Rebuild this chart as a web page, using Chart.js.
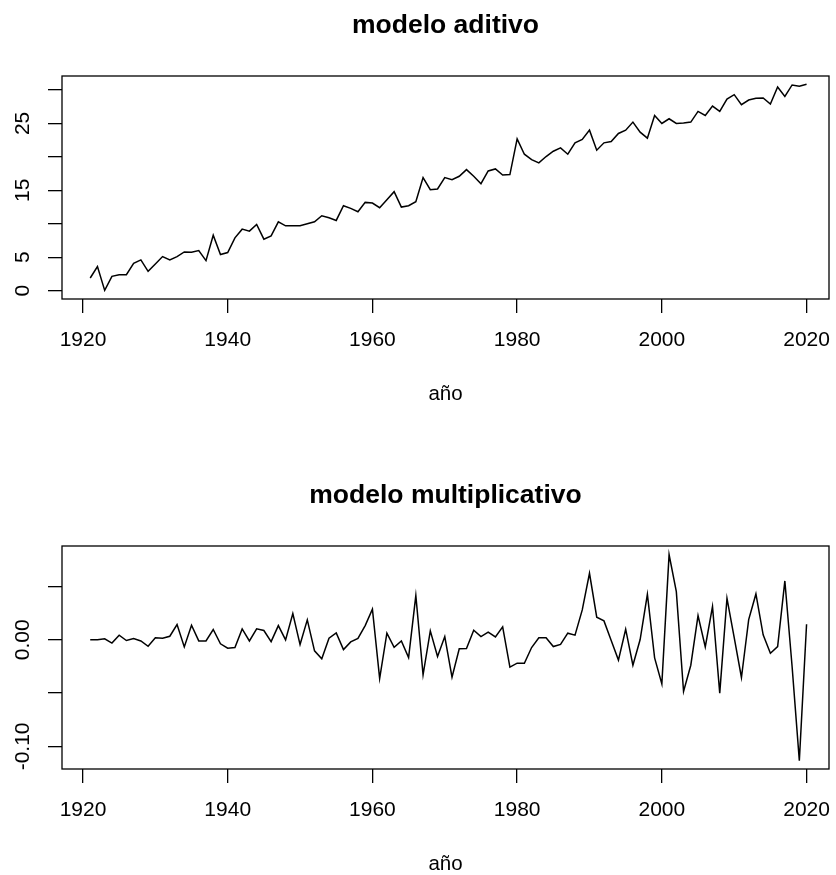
<!DOCTYPE html>
<html>
<head>
<meta charset="utf-8">
<script src="https://cdn.jsdelivr.net/npm/chart.js@4/dist/chart.umd.min.js"></script>
<style>
  body { margin: 0; background: #fff; overflow: hidden; }
  #wrap { position: relative; width: 836px; height: 875px; overflow: hidden; }
  canvas { position: absolute; left: 0; }
</style>
</head>
<body>
<div id="wrap">
  <canvas id="aditivo" width="836" height="470" style="top:0"></canvas>
  <canvas id="multiplicativo" width="836" height="470" style="top:470px"></canvas>
</div>
<script>
const years = [
    1921, 1922, 1923, 1924, 1925, 1926, 1927, 1928, 1929, 1930,
    1931, 1932, 1933, 1934, 1935, 1936, 1937, 1938, 1939, 1940,
    1941, 1942, 1943, 1944, 1945, 1946, 1947, 1948, 1949, 1950,
    1951, 1952, 1953, 1954, 1955, 1956, 1957, 1958, 1959, 1960,
    1961, 1962, 1963, 1964, 1965, 1966, 1967, 1968, 1969, 1970,
    1971, 1972, 1973, 1974, 1975, 1976, 1977, 1978, 1979, 1980,
    1981, 1982, 1983, 1984, 1985, 1986, 1987, 1988, 1989, 1990,
    1991, 1992, 1993, 1994, 1995, 1996, 1997, 1998, 1999, 2000,
    2001, 2002, 2003, 2004, 2005, 2006, 2007, 2008, 2009, 2010,
    2011, 2012, 2013, 2014, 2015, 2016, 2017, 2018, 2019, 2020
];

const aditivo = [
    1.9, 3.6, 0.05, 2.15, 2.4, 2.4, 4.1, 4.6, 2.9, 4.0,
    5.1, 4.6, 5.1, 5.8, 5.75, 6.0, 4.5, 8.3, 5.4, 5.7,
    7.9, 9.2, 8.9, 9.9, 7.7, 8.2, 10.3, 9.7, 9.7, 9.7,
    10.0, 10.3, 11.2, 10.9, 10.5, 12.7, 12.3, 11.8, 13.2, 13.1,
    12.4, 13.6, 14.8, 12.5, 12.7, 13.3, 16.9, 15.1, 15.2, 16.9,
    16.6, 17.1, 18.1, 17.1, 16.0, 17.9, 18.2, 17.3, 17.35, 22.7,
    20.4, 19.6, 19.1, 20.05, 20.85, 21.35, 20.4, 22.1, 22.6, 24.0,
    21.0, 22.1, 22.3, 23.5, 24.0, 25.2, 23.7, 22.8, 26.2, 25.0,
    25.7, 25.0, 25.05, 25.2, 26.8, 26.2, 27.6, 26.8, 28.65, 29.3,
    27.8, 28.5, 28.75, 28.8, 27.9, 30.45, 29.05, 30.75, 30.55, 30.85
];

const multiplicativo = [
    0.000, 0.000, 0.001, -0.003, 0.0044, -0.0006, 0.0013, -0.001, -0.006, 0.002,
    0.0016, 0.0034, 0.0144, -0.0066, 0.0137, -0.001, -0.001, 0.0097, -0.0037, -0.0078,
    -0.0072, 0.0103, -0.001, 0.0103, 0.0088, -0.0016, 0.0134, 0.0, 0.0247, -0.0044,
    0.0188, -0.0103, -0.0178, 0.0016, 0.0066, -0.0091, -0.0019, 0.0013, 0.0134, 0.0288,
    -0.0363, 0.0063, -0.0069, -0.001, -0.0166, 0.0416, -0.0328, 0.0084, -0.0156, 0.0031,
    -0.035, -0.0084, -0.0081, 0.0091, 0.0031, 0.0072, 0.0028, 0.0122, -0.0256, -0.0219,
    -0.0219, -0.0072, 0.002, 0.002, -0.0063, -0.0042, 0.0063, 0.0044, 0.0281, 0.0625,
    0.0213, 0.0178, -0.0006, -0.019, 0.01, -0.0238, 0.0003, 0.0428, -0.0169, -0.0413,
    0.08, 0.0453, -0.0484, -0.0238, 0.0228, -0.0066, 0.0313, -0.05, 0.039, 0.0022,
    -0.0353, 0.019, 0.0431, 0.0047, -0.0125, -0.0063, 0.0553, -0.025, -0.1134, 0.0147
];

const xTicks = [1920, 1940, 1960, 1980, 2000, 2020];
const yTicksAditivo = [0, 5, 10, 15, 20, 25, 30];
const yLabelsAditivo = ['0', '5', '', '15', '', '25', ''];
const yTicksMult = [-0.10, -0.05, 0, 0.05];
const yLabelsMult = ['-0.10', '', '0.00', ''];

Chart.defaults.font.family = '"Liberation Sans", Arial, sans-serif';
Chart.defaults.color = '#000';

// box round the plot region, like R's box()
const boxPlugin = {
    id: 'box',
    afterDraw(chart) {
        const a = chart.chartArea, ctx = chart.ctx;
        ctx.save();
        ctx.strokeStyle = '#000';
        ctx.lineWidth = 1.3;
        ctx.strokeRect(a.left, a.top, a.right - a.left, a.bottom - a.top);
        ctx.restore();
    }
};

const tickGrid = {
    drawOnChartArea: false,
    drawTicks: true,
    tickLength: 14,
    color: '#000',
    lineWidth: 1.3
};

function makeChart(el, title, values, yTicks, yLabels, yMin, yMax, yPad) {
    return new Chart(el, {
        type: 'line',
        plugins: [boxPlugin],
        data: {
            datasets: [{
                data: years.map((yr, i) => ({ x: yr, y: values[i] })),
                borderColor: '#000',
                borderWidth: 1.5,
                pointRadius: 0,
                tension: 0
            }]
        },
        options: {
            responsive: false,
            animation: false,
            layout: {
                padding: { left: 0, right: 7, top: 0, bottom: 63 }
            },
            plugins: {
                legend: { display: false },
                tooltip: { enabled: false }
            },
            scales: {
                x: {
                    type: 'linear',
                    position: 'bottom',
                    min: 1917.1,
                    max: 2023.1,
                    afterBuildTicks: s => { s.ticks = xTicks.map(v => ({ value: v })); },
                    afterFit: s => { s.height = 108; s.paddingLeft = 0; s.paddingRight = 0; },
                    ticks: {
                        font: { size: 21 },
                        padding: 15,
                        maxRotation: 0,
                        callback: v => String(v)
                    },
                    grid: tickGrid,
                    border: { display: false },
                    title: {
                        display: true,
                        text: 'año',
                        font: { size: 20.5 },
                        padding: 0
                    }
                },
                heading: {
                    type: 'linear',
                    axis: 'x',
                    position: 'top',
                    afterFit: s => { s.height = 76; s.paddingLeft = 0; s.paddingRight = 0; },
                    ticks: { display: false },
                    grid: { display: false },
                    border: { display: false },
                    title: {
                        display: true,
                        text: title,
                        font: { size: 26.5, weight: 'bold' },
                        padding: { top: 10, bottom: 0 }
                    }
                },
                y: {
                    type: 'linear',
                    min: yMin,
                    max: yMax,
                    afterBuildTicks: s => { s.ticks = yTicks.map(v => ({ value: v })); },
                    afterFit: s => { s.width = 62; s.paddingTop = 0; s.paddingBottom = 0; },
                    ticks: {
                        font: { size: 21 },
                        padding: yPad,
                        minRotation: 90,
                        maxRotation: 90,
                        crossAlign: 'center',
                        callback: (v, i) => yLabels[i]
                    },
                    grid: tickGrid,
                    border: { display: false }
                }
            }
        }
    });
}

makeChart(document.getElementById('aditivo'), 'modelo aditivo',
    aditivo, yTicksAditivo, yLabelsAditivo, -1.24, 32.09, 13);

makeChart(document.getElementById('multiplicativo'), 'modelo multiplicativo',
    multiplicativo, yTicksMult, yLabelsMult, -0.1212, 0.0881, 1);
</script>
</body>
</html>
